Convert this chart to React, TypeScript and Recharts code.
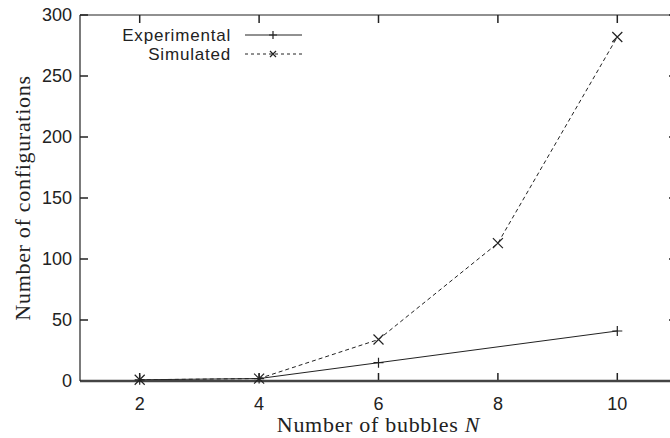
import { LineChart, Line, XAxis, YAxis, Legend, ReferenceLine } from 'recharts'

const bubbleCounts = [2, 4, 6, 8, 10]
const experimental = [1, 2, 15, null, 41]
const simulated = [1, 2, 34, 113, 282]
const yTicks = [0, 50, 100, 150, 200, 250, 300]
const X_DOMAIN = [1, 11]
const Y_DOMAIN = [0, 300]

const data = bubbleCounts.map((n, i) => ({
  n,
  experimental: experimental[i],
  simulated: simulated[i],
}))

const SANS = '"Liberation Sans", Arial, sans-serif'
const SERIF = '"Liberation Serif", "Times New Roman", serif'
const INK = '#222'

// layout
const CHART_W = 700
const CHART_H = 438
const MARGIN = { top: 15, right: 23, left: 0, bottom: 0 }
const X_AXIS_H = 57
const Y_AXIS_W = 80
const PLOT_W = CHART_W - MARGIN.left - MARGIN.right - Y_AXIS_W
const PLOT_H = CHART_H - MARGIN.top - MARGIN.bottom - X_AXIS_H
const TICK_PX = 8
// inward tick length expressed in data units so the scales place them
const TICK_X = (TICK_PX * (X_DOMAIN[1] - X_DOMAIN[0])) / PLOT_W
const TICK_Y = (TICK_PX * (Y_DOMAIN[1] - Y_DOMAIN[0])) / PLOT_H

const PlusDot = (props: any) => {
  const { cx, cy, index } = props
  if (cx == null || cy == null || props.value == null) return <g key={`p${index}`} />
  return <path key={`p${index}`} d={`M${cx - 5},${cy}H${cx + 5}M${cx},${cy - 5}V${cy + 5}`} stroke={INK} strokeWidth={1.2} fill="none" />
}

const CrossDot = (props: any) => {
  const { cx, cy, index } = props
  if (cx == null || cy == null) return <g key={`c${index}`} />
  return <path key={`c${index}`} d={`M${cx - 5},${cy - 5}L${cx + 5},${cy + 5}M${cx - 5},${cy + 5}L${cx + 5},${cy - 5}`} stroke={INK} strokeWidth={1.2} fill="none" />
}

const XTitle = (props: any) => {
  const vb = props.viewBox
  return (
    <text x={vb.x + vb.width / 2} y={vb.y + vb.height - 6} textAnchor="middle" fill={INK} fontFamily={SERIF} fontSize={22} letterSpacing={0.7}>
      Number of bubbles <tspan fontStyle="italic">N</tspan>
    </text>
  )
}

const YTitle = (props: any) => {
  const vb = props.viewBox
  const cy = vb.y + vb.height / 2
  return (
    <text x={30} y={cy} transform={`rotate(-90, 30, ${cy})`} textAnchor="middle" fill={INK} fontFamily={SERIF} fontSize={22} letterSpacing={0.7}>
      Number of configurations
    </text>
  )
}

const LegendBox = () => (
  <svg width={230} height={46} style={{ display: 'block' }}>
    <g fontFamily={SANS} fontSize={17} fill={INK} letterSpacing={0.8}>
      <text x={131} y={13} textAnchor="end" dominantBaseline="central">Experimental</text>
      <text x={131} y={32} textAnchor="end" dominantBaseline="central">Simulated</text>
    </g>
    <line x1={145} x2={202} y1={13} y2={13} stroke={INK} strokeWidth={1} />
    <path d="M173,9V17M169,13H177" stroke={INK} strokeWidth={1.2} />
    <line x1={145} x2={202} y1={32} y2={32} stroke={INK} strokeWidth={1} strokeDasharray="3 3" />
    <path d="M170,29L176,35M170,35L176,29" stroke={INK} strokeWidth={1.2} />
  </svg>
)

const tickStyle = { fill: INK, fontFamily: SANS, fontSize: 18 }

export default function App() {
  return (
    <div style={{ position: 'fixed', left: 0, top: 0, width: 670, height: 438, overflow: 'hidden', background: '#fff' }}>
      <LineChart width={CHART_W} height={CHART_H} data={data} margin={MARGIN}>
        <XAxis
          dataKey="n"
          type="number"
          domain={X_DOMAIN}
          ticks={bubbleCounts}
          height={X_AXIS_H}
          tickSize={1}
          tickMargin={15}
          tickLine={false}
          axisLine={{ stroke: '#444', strokeWidth: 2.5 }}
          tick={tickStyle}
          label={XTitle}
        />
        <YAxis
          type="number"
          domain={Y_DOMAIN}
          ticks={yTicks}
          width={Y_AXIS_W}
          tickSize={1}
          tickMargin={7}
          tickLine={false}
          axisLine={{ stroke: INK, strokeWidth: 1.2 }}
          tick={tickStyle}
          label={YTitle}
        />
        {/* top and right edges of the frame */}
        <ReferenceLine y={Y_DOMAIN[1]} stroke={INK} strokeWidth={1.2} />
        <ReferenceLine x={X_DOMAIN[1]} stroke={INK} />
        {/* gnuplot-style inward ticks on all four edges */}
        {bubbleCounts.map((n) => (
          <ReferenceLine key={`b${n}`} segment={[{ x: n, y: Y_DOMAIN[0] }, { x: n, y: Y_DOMAIN[0] + TICK_Y }]} stroke={INK} strokeWidth={1.5} />
        ))}
        {bubbleCounts.map((n) => (
          <ReferenceLine key={`t${n}`} segment={[{ x: n, y: Y_DOMAIN[1] }, { x: n, y: Y_DOMAIN[1] - TICK_Y }]} stroke={INK} strokeWidth={1.5} />
        ))}
        {yTicks.map((v) => (
          <ReferenceLine key={`l${v}`} segment={[{ x: X_DOMAIN[0], y: v }, { x: X_DOMAIN[0] + TICK_X, y: v }]} stroke={INK} strokeWidth={1.5} />
        ))}
        {yTicks.map((v) => (
          <ReferenceLine key={`r${v}`} segment={[{ x: X_DOMAIN[1], y: v }, { x: X_DOMAIN[1] - TICK_X, y: v }]} stroke={INK} strokeWidth={1.5} />
        ))}
        <Legend
          layout="vertical"
          align="center"
          verticalAlign="middle"
          wrapperStyle={{ top: 22, left: 100, width: 230 }}
          content={() => <LegendBox />}
        />
        <Line
          dataKey="experimental"
          stroke={INK}
          strokeWidth={1}
          connectNulls
          dot={PlusDot}
          activeDot={false}
          isAnimationActive={false}
        />
        <Line
          dataKey="simulated"
          stroke={INK}
          strokeWidth={1}
          strokeDasharray="4 3"
          dot={CrossDot}
          activeDot={false}
          isAnimationActive={false}
        />
      </LineChart>
    </div>
  )
}
